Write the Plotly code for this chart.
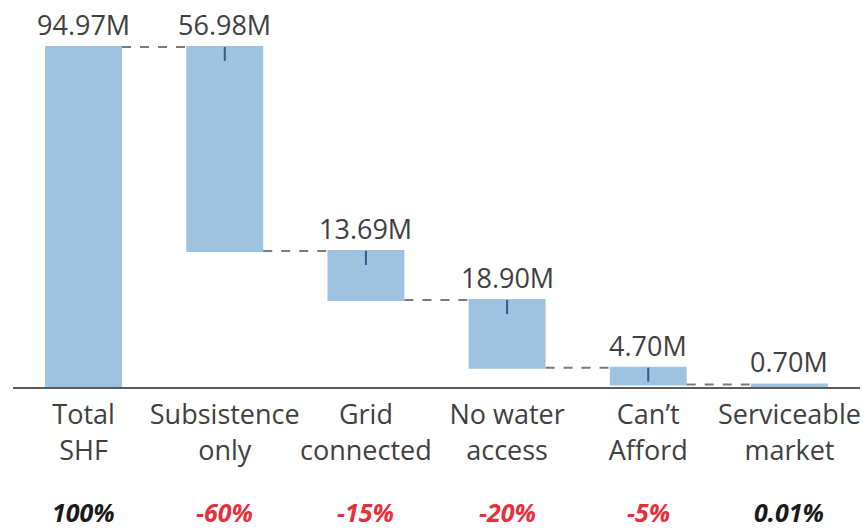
import plotly.graph_objects as go

# ---- data ----
categories = ["Total SHF", "Subsistence only", "Grid connected", "No water access", "Can't Afford", "Serviceable market"]
tick_labels = ["Total<br>SHF", "Subsistence<br>only", "Grid<br>connected", "No water<br>access", "Can’t<br>Afford", "Serviceable<br>market"]
measures = ["absolute", "relative", "relative", "relative", "relative", "total"]
values = [94.97, -56.98, -13.69, -18.90, -4.70, 0.0]
value_labels = ["94.97M", "56.98M", "13.69M", "18.90M", "4.70M", "0.70M"]
pct_labels = ["100%", "-60%", "-15%", "-20%", "-5%", "0.01%"]
pct_colors = ["#1a1a1a", "#e5303c", "#e5303c", "#e5303c", "#e5303c", "#1a1a1a"]

FONT = "Open Sans"
BAR = "#9dc3e1"

# running tops of each bar
tops = []
running = 0.0
for m, v in zip(measures, values):
    if m == "absolute":
        running = v
        tops.append(running)
    elif m == "relative":
        tops.append(running)
        running += v
    else:
        tops.append(running)

fig = go.Figure(go.Waterfall(
    x=categories,
    y=values,
    measure=measures,
    increasing=dict(marker=dict(color=BAR)),
    decreasing=dict(marker=dict(color=BAR)),
    totals=dict(marker=dict(color=BAR)),
    connector=dict(line=dict(color="#7a7a7a", width=2, dash="dash")),
    hoverinfo="skip",
))

annotations = []
shapes = []
for i, (c, top) in enumerate(zip(categories, tops)):
    annotations.append(dict(
        x=c, y=top, xref="x", yref="y", text=value_labels[i],
        showarrow=False, yanchor="bottom", yshift=2,
        font=dict(family=FONT, size=27, color="#404040"),
    ))
    annotations.append(dict(
        x=c, y=0, xref="x", yref="paper", text="<b><i>%s</i></b>" % pct_labels[i],
        showarrow=False, yanchor="top", yshift=-107, borderpad=0,
        font=dict(family=FONT, size=25, color=pct_colors[i]),
    ))
    if measures[i] == "relative":
        shapes.append(dict(
            type="line", xref="x", yref="y", x0=i, x1=i,
            ysizemode="pixel", yanchor=top, y0=0, y1=-14,
            line=dict(color="#2e5d86", width=2),
        ))

fig.update_layout(
    width=867, height=532,
    margin=dict(l=13, r=7, t=29, b=145),
    paper_bgcolor="white", plot_bgcolor="white",
    showlegend=False,
    waterfallgap=0.455,
    annotations=annotations,
    shapes=shapes,
    xaxis=dict(
        tickmode="array", tickvals=categories, ticktext=tick_labels,
        tickfont=dict(family=FONT, size=27, color="#404040"),
        tickangle=0, automargin=False, ticklabelstandoff=3,
        showline=True, linecolor="#5a5a5a", linewidth=2,
        showgrid=False, ticks="", zeroline=False,
    ),
    yaxis=dict(range=[0, 100], visible=False, showgrid=False, zeroline=False),
)

fig.write_html("out.html")
